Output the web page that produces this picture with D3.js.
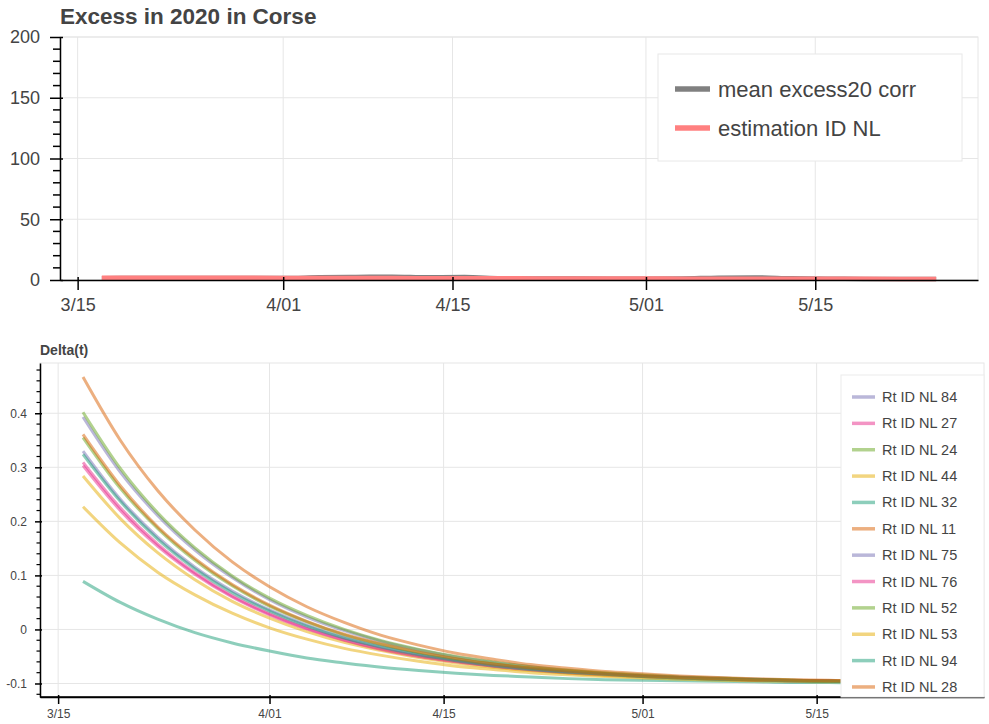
<!DOCTYPE html>
<html><head><meta charset="utf-8">
<script src="https://cdn.jsdelivr.net/npm/d3@7"></script>
<style>body{margin:0;background:#fff;} text{font-family:"Liberation Sans",Arial,Helvetica,sans-serif;}</style>
</head><body><svg id="c" width="989" height="724"></svg>
<script>
// ---------------- DATA ----------------
const dates = ["2020-03-17","2020-03-20","2020-03-23","2020-03-26","2020-03-29","2020-04-01","2020-04-04","2020-04-07",
  "2020-04-10","2020-04-13","2020-04-16","2020-04-19","2020-04-22","2020-04-25","2020-04-28","2020-05-01",
  "2020-05-04","2020-05-07","2020-05-10","2020-05-13","2020-05-16","2020-05-19","2020-05-22","2020-05-25"];
const tickDates = ["2020-03-15","2020-04-01","2020-04-15","2020-05-01","2020-05-15"];
const topYTicks = [0,50,100,150,200];
const botYTicks = [-0.1,0,0.1,0.2,0.3,0.4];

const topTitle = "Excess in 2020 in Corse";
const topNames = ["mean excess20 corr","estimation ID NL"];
const meanExcess = [1.5,1.6,1.7,1.7,1.6,1.6,2.2,2.5,2.7,2.2,2.4,1.5,1.3,1.2,1.1,1.0,1.2,1.9,2.1,1.4,1.0,0.9,0.8,0.8];
const estimation = [1.8,1.8,1.8,1.8,1.8,1.7,1.7,1.6,1.6,1.5,1.4,1.4,1.3,1.3,1.2,1.2,1.1,1.1,1.1,1.0,1.0,1.0,0.9,0.9];

const botLabel = "Delta(t)";
const seriesNames = ["Rt ID NL 84","Rt ID NL 27","Rt ID NL 24","Rt ID NL 44","Rt ID NL 32","Rt ID NL 11",
  "Rt ID NL 75","Rt ID NL 76","Rt ID NL 52","Rt ID NL 53","Rt ID NL 94","Rt ID NL 28"];
const rt84 = [0.393,0.291,0.211,0.147,0.096,0.055,0.023,-0.002,-0.022,-0.038,-0.051,-0.061,-0.069,-0.076,-0.081,-0.085,-0.088,-0.090,-0.092,-0.094,-0.095,-0.096,-0.097,-0.098];
const rt27 = [0.309,0.225,0.158,0.105,0.062,0.029,0.002,-0.019,-0.036,-0.049,-0.059,-0.068,-0.074,-0.080,-0.084,-0.087,-0.090,-0.092,-0.094,-0.095,-0.096,-0.097,-0.097,-0.098];
const rt24 = [0.402,0.298,0.216,0.151,0.099,0.058,0.026,0.000,-0.021,-0.037,-0.050,-0.060,-0.069,-0.075,-0.080,-0.084,-0.088,-0.090,-0.092,-0.094,-0.095,-0.096,-0.097,-0.098];
const rt44 = [0.284,0.205,0.142,0.092,0.052,0.021,-0.004,-0.024,-0.039,-0.052,-0.062,-0.070,-0.076,-0.081,-0.085,-0.088,-0.090,-0.092,-0.094,-0.095,-0.096,-0.097,-0.098,-0.098];
const rt32 = [0.089,0.050,0.019,-0.006,-0.025,-0.040,-0.053,-0.062,-0.070,-0.076,-0.081,-0.085,-0.088,-0.091,-0.093,-0.094,-0.095,-0.096,-0.097,-0.098,-0.098,-0.099,-0.099,-0.099];
const rt11 = [0.467,0.350,0.257,0.184,0.125,0.079,0.042,0.013,-0.011,-0.029,-0.044,-0.055,-0.065,-0.072,-0.078,-0.082,-0.086,-0.089,-0.091,-0.093,-0.094,-0.096,-0.096,-0.097];
const rt75 = [0.330,0.241,0.171,0.115,0.071,0.036,0.008,-0.015,-0.032,-0.046,-0.057,-0.066,-0.073,-0.079,-0.083,-0.087,-0.089,-0.092,-0.093,-0.095,-0.096,-0.097,-0.097,-0.098];
const rt76 = [0.303,0.220,0.154,0.102,0.060,0.027,0.001,-0.020,-0.037,-0.050,-0.060,-0.068,-0.075,-0.080,-0.084,-0.087,-0.090,-0.092,-0.094,-0.095,-0.096,-0.097,-0.098,-0.098];
const rt52 = [0.355,0.261,0.187,0.128,0.081,0.043,0.014,-0.010,-0.028,-0.043,-0.055,-0.064,-0.072,-0.077,-0.082,-0.086,-0.089,-0.091,-0.093,-0.094,-0.096,-0.096,-0.097,-0.098];
const rt53 = [0.227,0.160,0.106,0.064,0.030,0.003,-0.018,-0.035,-0.048,-0.059,-0.068,-0.074,-0.080,-0.084,-0.087,-0.090,-0.092,-0.094,-0.095,-0.096,-0.097,-0.097,-0.098,-0.098];
const rt94 = [0.324,0.237,0.167,0.112,0.068,0.034,0.006,-0.016,-0.033,-0.047,-0.058,-0.067,-0.074,-0.079,-0.083,-0.087,-0.090,-0.092,-0.093,-0.095,-0.096,-0.097,-0.097,-0.098];
const rt28 = [0.361,0.266,0.190,0.131,0.083,0.045,0.015,-0.009,-0.027,-0.042,-0.054,-0.064,-0.071,-0.077,-0.082,-0.086,-0.089,-0.091,-0.093,-0.094,-0.095,-0.096,-0.097,-0.098];
const seriesValues = [rt84,rt27,rt24,rt44,rt32,rt11,rt75,rt76,rt52,rt53,rt94,rt28];
const palette = ["#7570b3","#e7298a","#66a61e","#e6ab02","#1b9e77","#d95f02"];

// ---------------- DRAW ----------------
const svg = d3.select("#c");
const parse = d3.timeParse("%Y-%m-%d");
const D = dates.map(parse);
const T = tickDates.map(parse);
const fmtDate = d3.timeFormat("%-m/%d");
const TXT = "#444";
const GRID = "#e6e6e6";

function styleAxis(g, fs){
  g.select(".domain").attr("stroke","#000").attr("stroke-width",1.5);
  g.selectAll(".tick line").attr("stroke","#000").attr("stroke-width",1.5);
  g.selectAll(".tick text").attr("fill",TXT).style("font-size",fs+"px")
    .style("font-family",'"Liberation Sans",Arial,Helvetica,sans-serif');
}

// ===== Top chart =====
{
  const L=60,R=978,Tp=37,B=280;
  const x = d3.scaleTime().domain([new Date(2020,2,13,13), new Date(2020,4,28,11)]).range([L,R]);
  const y = d3.scaleLinear().domain([0,200]).range([B,Tp]);
  const g = svg.append("g");
  g.selectAll(".gx").data(T).join("line").attr("x1",d=>x(d)).attr("x2",d=>x(d)).attr("y1",Tp).attr("y2",B).attr("stroke",GRID);
  g.selectAll(".gy").data(topYTicks).join("line").attr("x1",L).attr("x2",R).attr("y1",d=>y(d)).attr("y2",d=>y(d)).attr("stroke",GRID);
  g.append("rect").attr("x",L).attr("y",Tp).attr("width",R-L).attr("height",B-Tp).attr("fill","none").attr("stroke",GRID);

  const line = d3.line().x((d,i)=>x(D[i])).y(d=>y(d)).curve(d3.curveMonotoneX);
  g.append("path").datum(meanExcess).attr("d",line).attr("fill","none").attr("stroke","#808080").attr("stroke-width",4.5);
  g.append("path").datum(estimation).attr("d",line).attr("fill","none").attr("stroke","#ff8080").attr("stroke-width",4.5);

  const minor = d3.range(0,201,10).filter(v=>!topYTicks.includes(v));
  g.selectAll(".my").data(minor).join("line").attr("x1",L-7).attr("x2",L).attr("y1",d=>y(d)).attr("y2",d=>y(d)).attr("stroke","#000").attr("stroke-width",1.5);

  const ay = g.append("g").attr("transform",`translate(${L},0)`)
    .call(d3.axisLeft(y).tickValues(topYTicks).tickSizeInner(10).tickSizeOuter(0).tickPadding(10).tickFormat(d=>String(d)));
  ay.selectAll(".tick line").attr("x1",3);
  styleAxis(ay,18);
  const ax = g.append("g").attr("transform",`translate(0,${B})`)
    .call(d3.axisBottom(x).tickValues(T).tickSizeInner(10).tickSizeOuter(0).tickPadding(8.5).tickFormat(fmtDate));
  ax.selectAll(".tick line").attr("y1",-3);
  styleAxis(ax,18);

  svg.append("text").attr("x",60).attr("y",24).attr("fill",TXT).style("font-size","22.5px").style("font-weight","bold").text(topTitle);

  const lg = svg.append("g");
  lg.append("rect").attr("x",658).attr("y",54).attr("width",304).attr("height",107).attr("fill","#fff").attr("stroke","#e8e8e8");
  const cols = ["#808080","#ff8080"];
  topNames.forEach((n,i)=>{
    const yy = 89 + i*39;
    lg.append("line").attr("x1",675).attr("x2",710).attr("y1",yy).attr("y2",yy).attr("stroke",cols[i]).attr("stroke-width",5.5);
    lg.append("text").attr("x",718).attr("y",yy).attr("dominant-baseline","central").attr("fill",TXT).style("font-size","22px").text(n);
  });
}

// ===== Bottom chart =====
{
  const L=40,R=984,Tp=363,B=697;
  const x = d3.scaleTime().domain([new Date(2020,2,13,13), new Date(2020,4,28,11)]).range([L,R]);
  const y = d3.scaleLinear().domain([-0.125,0.493]).range([B,Tp]);
  const g = svg.append("g");
  g.selectAll(".gx").data(T).join("line").attr("x1",d=>x(d)).attr("x2",d=>x(d)).attr("y1",Tp).attr("y2",B).attr("stroke",GRID);
  g.selectAll(".gy").data(botYTicks).join("line").attr("x1",L).attr("x2",R).attr("y1",d=>y(d)).attr("y2",d=>y(d)).attr("stroke",GRID);
  g.append("rect").attr("x",L).attr("y",Tp).attr("width",R-L).attr("height",B-Tp).attr("fill","none").attr("stroke",GRID);

  const line = d3.line().x((d,i)=>x(D[i])).y(d=>y(d)).curve(d3.curveMonotoneX);
  seriesValues.forEach((vals,i)=>{
    g.append("path").datum(vals).attr("d",line).attr("fill","none")
      .attr("stroke",palette[i%6]).attr("stroke-opacity",0.5).attr("stroke-width",3);
  });

  const minor = d3.range(-12,49,2).map(v=>v/100).filter(v=>!botYTicks.some(t=>Math.abs(t-v)<1e-9));
  g.selectAll(".my").data(minor).join("line").attr("x1",L-3.5).attr("x2",L+0.5).attr("y1",d=>y(d)).attr("y2",d=>y(d)).attr("stroke","#000").attr("stroke-width",1.2);

  const ay = g.append("g").attr("transform",`translate(${L},0)`)
    .call(d3.axisLeft(y).tickValues(botYTicks).tickSizeInner(5).tickSizeOuter(0).tickPadding(8)
      .tickFormat(d=> Math.abs(d)<1e-9 ? "0" : d.toFixed(1)));
  ay.selectAll(".tick line").attr("x1",2);
  styleAxis(ay,12);
  const ax = g.append("g").attr("transform",`translate(0,${B})`)
    .call(d3.axisBottom(x).tickValues(T).tickSizeInner(7).tickSizeOuter(0).tickPadding(5.5).tickFormat(fmtDate));
  ax.selectAll(".tick line").attr("y1",-2);
  styleAxis(ax,12);

  svg.append("text").attr("x",40).attr("y",355).attr("fill",TXT).style("font-size","14px").style("font-weight","bold").text(botLabel);

  const lg = svg.append("g");
  lg.append("rect").attr("x",841).attr("y",375).attr("width",143).attr("height",322).attr("fill","#fff").attr("stroke","#ececec");
  seriesNames.forEach((n,i)=>{
    const yy = 397 + i*26.36;
    lg.append("line").attr("x1",852).attr("x2",875).attr("y1",yy).attr("y2",yy).attr("stroke",palette[i%6]).attr("stroke-opacity",0.5).attr("stroke-width",3.5);
    lg.append("text").attr("x",882).attr("y",yy).attr("dominant-baseline","central").attr("fill",TXT).style("font-size","14.5px").text(n);
  });
  g.append("line").attr("x1",L).attr("x2",R).attr("y1",B).attr("y2",B).attr("stroke","#000").attr("stroke-width",1.5);
}
</script></body></html>
